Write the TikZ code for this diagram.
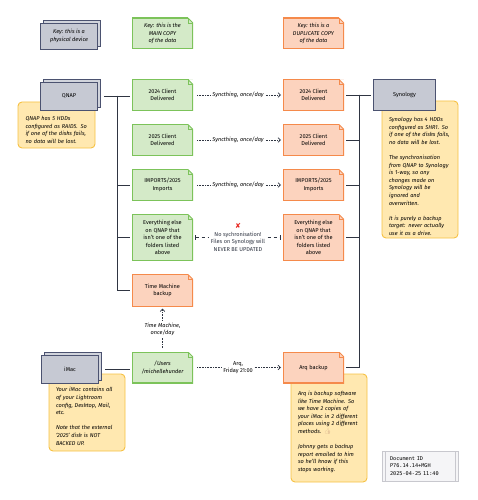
\documentclass[tikz,border=0pt]{standalone}
\usepackage{fontspec}
\setmainfont{Fira Sans}
\setmonofont{DejaVu Sans Mono}
\newfontfamily\symfont{DejaVu Sans}
\newfontfamily\emojifont{Noto Emoji}
\usetikzlibrary{arrows.meta, positioning, shadows}

\definecolor{devfill}{HTML}{C6C9D3}
\definecolor{devline}{HTML}{4B5270}
\definecolor{gfill}{HTML}{D4EAC8}
\definecolor{gline}{HTML}{7CC35A}
\definecolor{ofill}{HTML}{FCD3BE}
\definecolor{oline}{HTML}{F58A4B}
\definecolor{yfill}{HTML}{FFE8B0}
\definecolor{yline}{HTML}{F6C143}
\definecolor{wirec}{HTML}{2F3542}
\definecolor{idfill}{HTML}{F5F5F7}
\definecolor{idline}{HTML}{C8C8CE}
\definecolor{xred}{HTML}{E8251F}
\newcommand{\dsize}{\fontsize{5.6}{7.6}\selectfont}

\begin{document}
\begin{tikzpicture}[
    x=1pt, y=-1pt,
    node distance=14pt and 90pt,
    every node/.style={font=\dsize, inner sep=1pt, align=center},
    >={Straight Barb[length=2.5pt, width=4.5pt]}, % Arrow style
    device/.style={draw=devline, fill=devfill, line width=0.9pt, minimum width=57pt, minimum height=28pt,
        copy shadow={shadow xshift=2.5pt, shadow yshift=2.5pt, fill=devfill!80, draw=devline}},
    box/.style={draw=devline, fill=devfill, line width=0.9pt, minimum width=62pt, minimum height=31pt},
    doc/.style 2 args={fill=#1, outer sep=0pt, minimum width=61pt, minimum height=31pt,
        path picture={
            \def\pb{path picture bounding box}
            \fill[white] ([xshift=-5pt]\pb.north east) -- (\pb.north east) -- ([yshift=-5pt]\pb.north east) -- cycle;
            \draw[#2, line width=1.8pt] ([yshift=-5pt]\pb.north east) -- (\pb.south east)
                -- (\pb.south west) -- (\pb.north west) -- ([xshift=-5pt]\pb.north east);
            \draw[#2, line width=0.9pt] ([xshift=-5pt]\pb.north east) -- ([yshift=-5pt]\pb.north east);
            \draw[#2, line width=0.6pt] ([xshift=-5pt]\pb.north east) |- ([yshift=-5pt]\pb.north east);}},
    main/.style={doc={gfill}{gline}},
    copy/.style={doc={ofill}{oline}},
    key/.style={font=\dsize\itshape},
    memo/.style={draw=yline, fill=yfill, line width=0.9pt, rounded corners=4pt, align=left,
        text width=62pt, font=\dsize\itshape},
    idbox/.style={draw=idline, fill=idfill, line width=0.8pt, minimum height=30pt, text width=60pt,
        inner xsep=8pt, align=left, font=\fontsize{5.2}{7.4}\selectfont\ttfamily,
        path picture={
            \def\pb{path picture bounding box}
            \draw[idline, line width=0.8pt] ([xshift=3pt]\pb.north west) -- ([xshift=3pt]\pb.south west)
                ([xshift=-3pt]\pb.north east) -- ([xshift=-3pt]\pb.south east);}},
    wire/.style={draw=wirec, line width=0.8pt},
    sync/.style={draw=wirec, line width=0.7pt, dash pattern=on 0.8pt off 0.8pt, ->, shorten <=4pt, shorten >=2pt},
    lbl/.style={fill=white, inner sep=1.5pt}
]
\useasboundingbox (0,0) rectangle (477,500);

% Notes (behind the devices)
\node[memo, minimum width=77pt, minimum height=46pt] (qmemo) at (56.5,125)
    {\rule{0pt}{14pt}QNAP has 5 HDDs\\configured as RAID5. So\\if one of the disks fails,\\no data will be lost.};
\node[memo, minimum width=76pt, minimum height=137pt] (smemo) at (420,169.5)
    {\rule{0pt}{18pt}Synology has 4 HDDs\\configured as SHR1. So\\if one of the disks fails,\\no data will be lost.\\[7.6pt]
     The synchronisation\\from QNAP to Synology\\is 1-way, so any\\changes made on\\Synology will be\\ignored and\\overwritten.\\[7.6pt]
     It is purely a backup\\target: never actually\\use it as a drive.};
\node[memo, minimum width=76pt, minimum height=77pt] (imemo) at (87,412.5)
    {\rule{0pt}{12pt}Your iMac contains all\\of your Lightroom\\config, Desktop, Mail,\\etc.\\[7.6pt]
     Note that the external\\‘2025’ disk is NOT\\BACKED UP.};
\node[memo, minimum width=76pt, minimum height=108pt] (amemo) at (329,428)
    {\rule{0pt}{12pt}Arq is backup software\\like Time Machine. So\\we have 2 copies of\\your iMac in 2 different\\places using 2 different\\methods. {\emojifont\color{brown!60}👍}\\[7.6pt]
     Johnny gets a backup\\report emailed to him\\so he'll know if this\\stops working.};

% Key
\node[device, key, minimum height=26pt] (kdev) at (69,36) {Key: this is a\\physical device};
\node[main, key] (kmain) at (162.5,33.5) {Key: this is the\\MAIN COPY\\of the data};
\node[copy, key, right=of kmain] (kcopy) {Key: this is a\\DUPLICATE COPY\\of the data};

% Devices
\node[device] (qnap) at (69,96) {QNAP};
\node[device] (imac) at (70,369) {iMac};

% Main copies
\node[main] (g24) at (162.5,95) {2024 Client\\Delivered};
\node[main, below=of g24] (g25) {2025 Client\\Delivered};
\node[main, below=of g25] (gimp) {IMPORTS/2025\\Imports};
\node[main, below=of gimp, minimum height=46pt] (gelse) {Everything else\\on QNAP that\\isn't one of the\\folders listed\\above};
\node[copy, below=of gelse, minimum height=32pt] (tm) {Time Machine\\backup};
\node[main, key] (users) at (162.5,367.5) {/Users\\/michellehunder};

% Duplicates
\node[copy, right=of g24] (o24) {2024 Client\\Delivered};
\node[copy, right=of g25] (o25) {2025 Client\\Delivered};
\node[copy, right=of gimp] (oimp) {IMPORTS/2025\\Imports};
\node[copy, right=of gelse, minimum height=46pt] (oelse) {Everything else\\on QNAP that\\isn't one of the\\folders listed\\above};
\node[copy, right=of users] (arq) {Arq backup};
\node[box, right=29pt of o24] (syn) {Synology};

\node[idbox] (docid) at (420,466) {Document ID\\P76.14.14+MGH\\2025-04-25 11:40};

% Buses
\coordinate (qbus) at (117,96);
\coordinate (sbus) at (359,95);
\draw[wire, shorten <=6pt, shorten >=2pt] (qnap.east) -- (qnap.east -| g24.west);
\foreach \n in {gimp, gelse, tm}
    \draw[wire, shorten >=2pt] (qbus) |- (\n.west);
\draw[wire, shorten <=2pt, shorten >=2pt] (syn.west) -- (syn.west -| o24.east);
\foreach \n in {o25, oimp, oelse, arq}
    \draw[wire, shorten >=2pt] (sbus) |- (\n.east);
\draw[wire, shorten <=6pt, shorten >=2pt] (imac.east) -- (imac.east -| users.west);

% Sync arrows
\foreach \a/\b in {g24/o24, g25/o25, gimp/oimp}
    \draw[sync] (\a) -- node[lbl, key] {Syncthing, once/day} (\b);
\draw[wirec, line width=0.7pt, dashed, {Bar[width=4.5pt]}-{Bar[width=4.5pt]}, shorten <=2pt, shorten >=2pt]
    (gelse) -- node[lbl] {{\symfont\fontsize{7}{7.6}\selectfont\color{xred}✘}\\No sychronisation!\\Files on Synology will\\NEVER BE UPDATED} (oelse);
\draw[sync] (users) -- node[lbl, key] {Time Machine,\\once/day} (tm);
\draw[sync] (users) -- node[lbl] {Arq,\\Friday 21:00} (arq);

\end{tikzpicture}
\end{document}
